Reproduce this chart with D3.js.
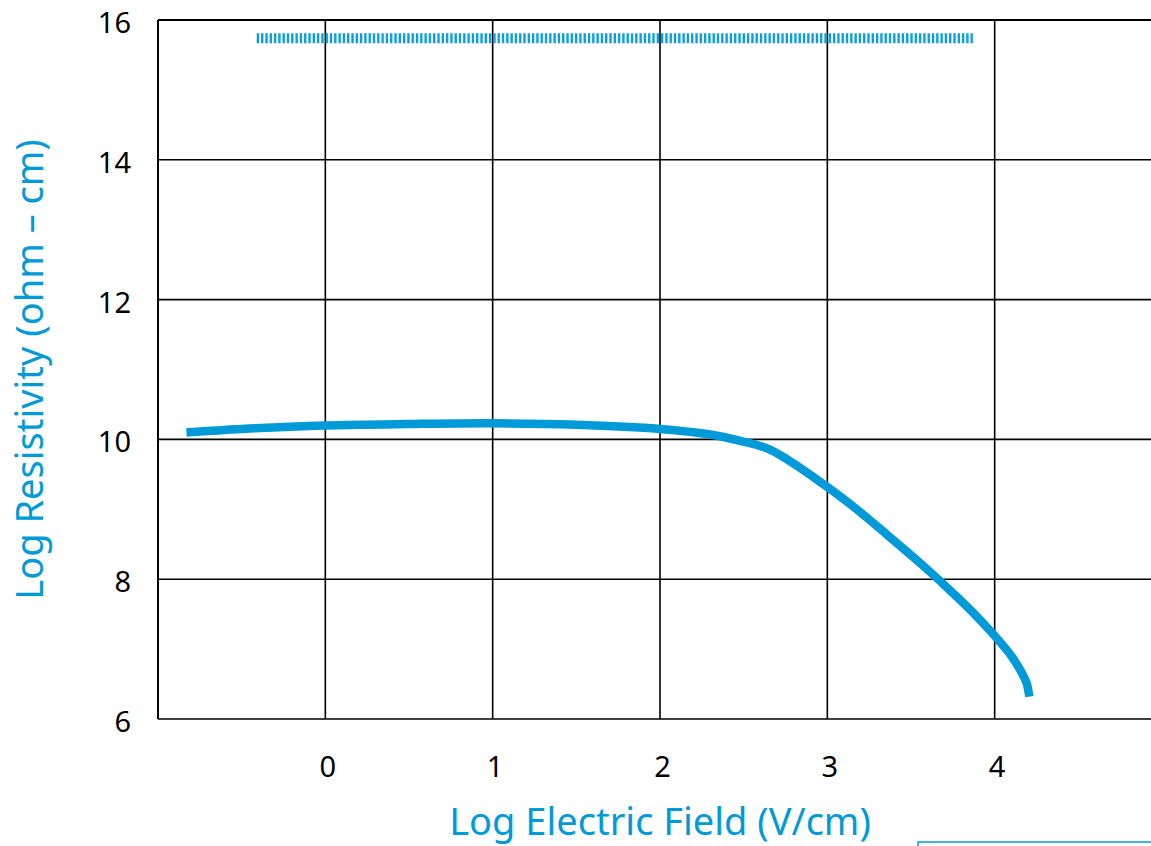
<!DOCTYPE html>
<html>
<head>
<meta charset="utf-8">
<script src="https://cdn.jsdelivr.net/npm/d3@7"></script>
<style>
  html, body { margin: 0; padding: 0; background: #ffffff; overflow: hidden; }
  svg { display: block; }
</style>
</head>
<body>
<svg id="chart" width="1151" height="846"></svg>
<script>
// ---- data ----
const xTicks = [0, 1, 2, 3, 4];
const yTicks = [6, 8, 10, 12, 14, 16];
const xGrid = [-1, 0, 1, 2, 3, 4, 5];
const curveX = [-0.83, -0.5, 0, 0.5, 1, 1.5, 2, 2.3, 2.48, 2.66, 3, 3.16, 3.36, 3.56, 3.68, 3.86, 4, 4.1, 4.16, 4.19, 4.207];
const curveY = [10.10, 10.15, 10.20, 10.22, 10.23, 10.21, 10.15, 10.07, 9.98, 9.85, 9.32, 9.03, 8.63, 8.22, 7.96, 7.55, 7.19, 6.9, 6.67, 6.52, 6.32];
const dashX = [-0.41, 3.87];
const dashY = [15.74, 15.74];
const xTitle = "Log Electric Field (V/cm)";
const yTitle = "Log Resistivity (ohm \u2013 cm)";

const blue = "#009ad9";
const svg = d3.select("#chart");
const mLeft = 158, mRight = 1162, mTop = 20, mBottom = 719;
const x = d3.scaleLinear().domain([-1, 5]).range([mLeft, mRight]);
const y = d3.scaleLinear().domain([6, 16]).range([mBottom, mTop]);

// grid
const g = svg.append("g");
g.selectAll("line.v").data(xGrid).join("line")
  .attr("x1", d => x(d)).attr("x2", d => x(d))
  .attr("y1", y(16)).attr("y2", y(6))
  .attr("stroke", "#000").attr("stroke-width", d => d === -1 ? 2 : 1.6);
g.selectAll("line.h").data(yTicks).join("line")
  .attr("x1", x(-1)).attr("x2", x(5))
  .attr("y1", d => y(d)).attr("y2", d => y(d))
  .attr("stroke", "#000").attr("stroke-width", d => d === 16 ? 2 : 1.6);

// axes labels via d3 axes
const yAxis = svg.append("g").attr("transform", `translate(${mLeft},0)`)
  .call(d3.axisLeft(y).tickValues(yTicks).tickFormat(d3.format("d")).tickSize(0).tickPadding(27));
yAxis.select(".domain").remove();
yAxis.selectAll("text").attr("font-family", "Noto Sans").attr("font-size", 29)
  .attr("fill", "#000").attr("dy", null).attr("y", 12.5);

const xAxis = svg.append("g").attr("transform", `translate(0,${mBottom})`)
  .call(d3.axisBottom(x).tickValues(xTicks).tickFormat(d3.format("d")).tickSize(0).tickPadding(0));
xAxis.select(".domain").remove();
xAxis.selectAll("text").attr("font-family", "Noto Sans").attr("font-size", 29)
  .attr("fill", "#000").attr("dy", null).attr("y", 58).attr("dx", 2);

// dashed line
const dashData = dashX.map((d, i) => [d, dashY[i]]);
svg.append("path").datum(dashData)
  .attr("d", d3.line().x(d => x(d[0])).y(d => y(d[1])))
  .attr("stroke", blue).attr("stroke-width", 10).attr("fill", "none")
  .attr("stroke-dasharray", "2.4 1.9").attr("opacity", 0.95);

// curve
const curveData = curveX.map((d, i) => [d, curveY[i]]);
svg.append("path").datum(curveData)
  .attr("d", d3.line().curve(d3.curveCatmullRom.alpha(0.5)).x(d => x(d[0])).y(d => y(d[1])))
  .attr("stroke", blue).attr("stroke-width", 8.5).attr("fill", "none")
  .attr("stroke-linecap", "butt");

// titles
svg.append("text").text(xTitle)
  .attr("x", (mLeft + mRight) / 2).attr("y", 835)
  .attr("text-anchor", "middle").attr("font-family", "Noto Sans")
  .attr("font-size", 38).attr("fill", blue);
svg.append("text").text(yTitle)
  .attr("transform", `translate(43,${(mTop + mBottom) / 2}) rotate(-90)`)
  .attr("text-anchor", "middle").attr("font-family", "Noto Sans")
  .attr("font-size", 38).attr("fill", blue);

// partially visible box at bottom right
svg.append("rect").attr("x", 918).attr("y", 842).attr("width", 300).attr("height", 60)
  .attr("fill", "none").attr("stroke", blue).attr("stroke-width", 1.5);
</script>
</body>
</html>
